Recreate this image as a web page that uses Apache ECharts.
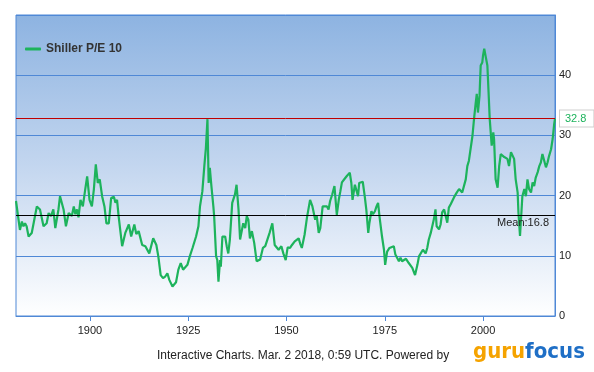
<!DOCTYPE html>
<html><head><meta charset="utf-8">
<script src="https://cdn.jsdelivr.net/npm/echarts@6/dist/echarts.min.js"></script>
<style>html,body{margin:0;padding:0;background:#fff}#c{width:594px;height:372px}</style>
</head><body><div id="c"></div>
<script>
const seriesName = 'Shiller P/E 10';
const years = [1881.2,1882.2,1882.7,1883.1,1883.5,1883.9,1884.4,1885.2,1886.5,1887.3,1888.2,1889.0,1889.5,1890.1,1890.7,1891.2,1892.0,1892.4,1893.3,1893.9,1894.6,1895.4,1895.9,1896.3,1896.7,1897.1,1897.6,1898.2,1898.8,1899.3,1899.9,1900.5,1901.0,1901.5,1902.0,1902.5,1902.8,1903.1,1903.7,1904.2,1904.8,1905.4,1906.1,1906.5,1906.9,1907.3,1908.2,1909.0,1909.9,1910.5,1911.3,1911.8,1912.4,1913.3,1914.1,1915.1,1916.1,1916.9,1917.4,1918.0,1918.6,1919.2,1919.7,1920.2,1921.0,1921.9,1922.5,1923.1,1923.7,1924.8,1925.4,1926.1,1926.5,1927.0,1927.6,1928.0,1928.6,1929.1,1929.5,1929.9,1930.2,1930.5,1930.9,1931.4,1931.6,1932.1,1932.4,1932.7,1933.1,1933.3,1933.7,1934.4,1934.8,1935.2,1935.6,1936.2,1936.9,1937.3,1937.8,1938.2,1938.6,1939.0,1939.5,1939.9,1940.3,1940.7,1941.2,1941.8,1942.4,1943.3,1944.0,1944.6,1945.0,1945.7,1946.4,1946.7,1947.0,1948.0,1948.7,1949.2,1949.8,1950.3,1950.9,1951.4,1952.1,1952.6,1953.1,1953.5,1953.9,1954.6,1955.2,1956.0,1956.6,1957.3,1957.7,1958.2,1958.6,1959.2,1959.7,1960.3,1960.7,1961.1,1961.6,1962.2,1962.8,1963.3,1963.7,1964.1,1964.8,1965.4,1965.8,1966.1,1966.5,1966.8,1967.4,1967.8,1968.2,1968.5,1969.0,1969.4,1969.9,1970.3,1970.8,1971.1,1971.6,1972.0,1972.5,1972.9,1973.3,1973.7,1974.3,1974.8,1975.1,1975.6,1976.2,1976.7,1977.3,1977.7,1978.2,1978.6,1979.0,1979.4,1979.8,1980.4,1981.1,1982.0,1982.7,1983.3,1983.7,1984.1,1984.7,1985.4,1985.8,1986.2,1986.7,1987.1,1987.5,1987.9,1988.2,1988.8,1989.2,1989.6,1990.1,1990.5,1990.9,1991.3,1991.8,1992.2,1992.6,1993.3,1993.9,1994.3,1994.7,1995.2,1995.6,1996.0,1996.4,1996.9,1997.3,1997.7,1998.1,1998.4,1998.7,1999.1,1999.4,1999.8,2000.0,2000.3,2000.7,2001.1,2001.4,2001.7,2002.0,2002.2,2002.6,2002.8,2003.2,2003.7,2004.1,2004.5,2004.9,2005.4,2005.8,2006.2,2006.6,2007.1,2007.5,2007.9,2008.3,2008.8,2009.0,2009.4,2009.6,2010.0,2010.5,2010.9,2011.3,2011.7,2012.2,2012.6,2013.0,2013.4,2013.9,2014.3,2014.7,2015.1,2015.6,2016.0,2016.4,2016.8,2017.3,2017.7,2018.1,2018.3];
const peValues = [19.1,14.3,15.7,14.9,15.4,14.9,13.2,13.8,18.2,17.7,14.9,15.4,17.1,16.6,17.7,14.6,17.7,19.9,17.7,14.9,17.1,16.6,18.2,16.9,17.7,16.4,19.3,18.2,21.0,23.2,19.3,18.2,21.0,25.2,22.1,22.7,22.8,19.9,18.2,15.4,15.4,19.6,19.8,18.8,19.3,16.6,11.6,13.8,15.2,13.2,15.2,13.6,14.1,11.8,11.6,10.4,12.9,11.8,9.9,6.8,6.3,6.6,7.1,6.0,4.9,5.6,7.7,8.8,7.7,8.5,9.9,11.3,11.6,13.2,14.9,18.2,20.7,24.9,27.9,32.7,22.1,24.6,21.6,18.2,16.6,9.9,9.3,5.7,9.3,8.2,13.2,13.2,11.6,10.4,12.7,18.8,20.2,21.8,17.7,12.7,12.4,15.4,14.6,16.6,16.0,12.9,14.1,12.1,9.1,9.4,11.3,11.6,11.3,13.8,15.4,15.7,11.8,11.0,11.6,10.4,9.3,11.4,11.3,11.8,12.4,12.4,12.9,12.0,11.3,13.5,16.3,19.3,18.2,16.0,16.6,13.8,14.6,18.2,18.5,18.2,17.7,19.1,20.1,21.6,16.8,19.3,20.7,22.2,22.8,23.3,23.6,23.8,22.1,19.3,21.8,21.5,19.9,22.1,21.8,22.3,19.9,17.7,13.8,15.5,17.4,16.9,17.4,18.2,18.8,16.3,13.2,11.0,8.5,10.7,11.3,11.6,11.6,10.2,9.9,9.1,9.7,9.1,9.1,9.5,8.8,8.0,6.8,8.5,9.9,9.9,11.0,10.4,11.3,12.7,13.8,14.1,16.1,17.7,14.9,14.4,15.2,17.2,17.7,17.4,15.5,18.0,18.6,18.9,19.7,20.5,21.1,20.8,20.5,20.3,22.7,24.9,25.8,26.1,29.9,32.7,35.2,36.9,33.8,36.6,41.6,42.1,43.3,44.4,43.0,41.6,37.2,32.7,33.0,28.3,30.5,29.4,22.7,21.3,24.9,26.9,26.6,26.4,26.6,26.1,24.9,27.2,27.2,26.1,22.7,20.5,17.2,13.3,15.5,19.9,21.1,19.9,22.7,21.1,20.5,22.2,21.6,23.0,23.9,24.9,25.5,26.9,26.6,24.7,25.5,26.6,27.7,29.4,31.9,32.8];
const xTickYears = [1900, 1925, 1950, 1975, 2000];
const yTicks = [0, 10, 20, 30, 40];
const meanValue = 16.8;
const currentValue = 32.8;
const footerText = 'Interactive Charts. Mar. 2 2018, 0:59 UTC. Powered by';

const BLUE = '#4f88d6';
const GREEN = '#1db35c';
const chart = echarts.init(document.getElementById('c'));
chart.setOption({
  animation: false,
  textStyle: { fontFamily: 'Liberation Sans, Arial, sans-serif' },
  grid: {
    left: 16, right: 39, top: 15, bottom: 56, show: true,
    borderColor: BLUE, borderWidth: 1,
    backgroundColor: { type: 'linear', x: 0, y: 0, x2: 0, y2: 1,
      colorStops: [{ offset: 0, color: '#8db3e1' }, { offset: 0.5, color: '#c3d6ef' }, { offset: 1, color: '#ffffff' }] }
  },
  legend: {
    left: 20, top: 38, icon: 'roundRect', itemWidth: 16, itemHeight: 3,
    textStyle: { fontSize: 12, fontWeight: 'bold', color: '#333' },
    data: [seriesName]
  },
  xAxis: {
    type: 'value', min: 1881.2, max: 2018.3,
    axisLine: { show: true, lineStyle: { color: BLUE } },
    axisTick: { show: true, customValues: xTickYears, length: 5, lineStyle: { color: BLUE } },
    axisLabel: { customValues: xTickYears, color: '#222', fontSize: 11, margin: 9, formatter: v => String(Math.round(v)) },
    splitLine: { show: false }
  },
  yAxis: {
    type: 'value', position: 'right', min: 0, max: 50, interval: 10,
    axisLine: { show: true, lineStyle: { color: BLUE } },
    axisTick: { show: false },
    axisLabel: { color: '#222', fontSize: 11, margin: 4,
      formatter: v => yTicks.indexOf(v) >= 0 ? String(v) : '' },
    splitLine: { show: true, lineStyle: { color: BLUE, width: 1 } }
  },
  series: [{
    name: seriesName, type: 'line', showSymbol: false, symbol: 'none',
    data: years.map((y, i) => [y, peValues[i]]),
    lineStyle: { color: GREEN, width: 2.2 }, itemStyle: { color: GREEN },
    markLine: {
      silent: true, symbol: 'none', animation: false,
      data: [
        { yAxis: meanValue, lineStyle: { color: '#000', width: 1, type: 'solid' },
          label: { position: 'insideEndBottom', formatter: 'Mean:' + meanValue, color: '#222', fontSize: 11, distance: [6, 3] } },
        { yAxis: currentValue, lineStyle: { color: '#c00000', width: 1, type: 'solid' },
          label: { position: 'end', formatter: String(currentValue), color: GREEN, fontSize: 11, distance: 5,
            backgroundColor: '#fff', borderColor: '#cfcfcf', borderWidth: 1, padding: [3, 7, 2, 5] } }
      ]
    }
  }],
  graphic: [
    { type: 'text', left: 157, top: 350, style: { text: footerText, fill: '#222', font: '12px "Liberation Sans", Arial, sans-serif' } },
    { type: 'text', left: 473, top: 341, style: {
      text: '{a|guru}{b|focus}',
      rich: {
        a: { fill: '#f5a300', font: 'bold 22px "DejaVu Sans Condensed", "DejaVu Sans", sans-serif' },
        b: { fill: '#1f6fc6', font: 'bold 22px "DejaVu Sans Condensed", "DejaVu Sans", sans-serif' }
      } } }
  ]
});
</script></body></html>
